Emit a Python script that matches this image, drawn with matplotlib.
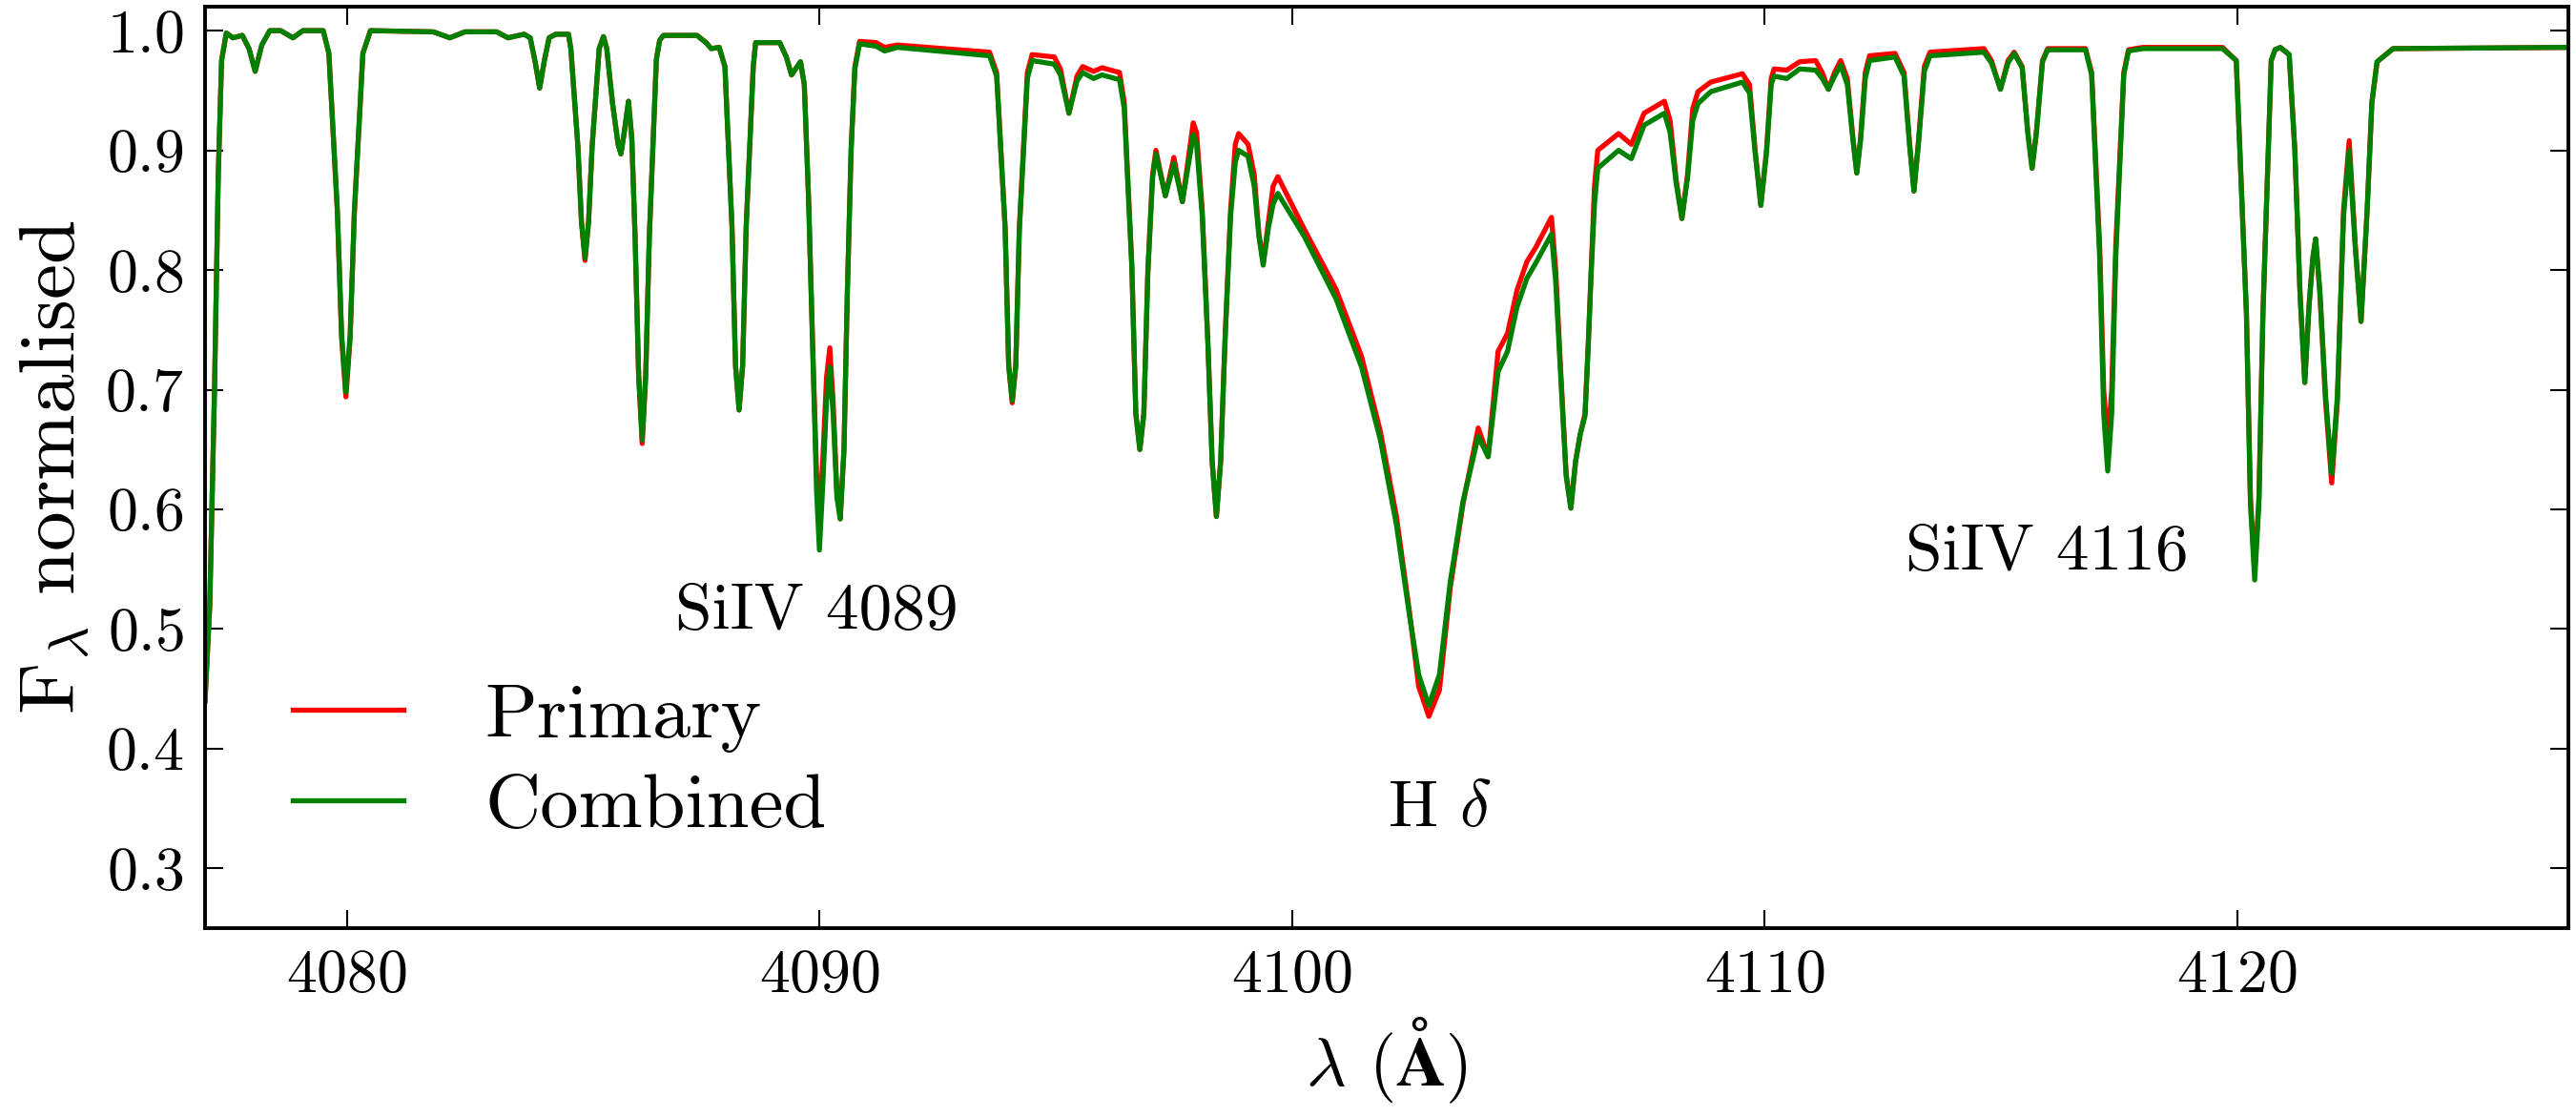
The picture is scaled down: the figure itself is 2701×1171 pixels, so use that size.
"""Normalised spectrum around H delta: primary star vs combined model."""
import matplotlib
matplotlib.use("Agg")
import matplotlib.pyplot as plt

plt.rcParams["font.family"] = "serif"
plt.rcParams["font.serif"] = ["cmr10"]
plt.rcParams["mathtext.fontset"] = "cm"
plt.rcParams["axes.formatter.use_mathtext"] = True

# wavelength (Angstrom), flux of primary and of combined model
wavelength = [
    # blue edge -> 4085.5
    4077.00, 4077.10, 4077.20, 4077.28, 4077.35, 4077.45, 4077.59, 4077.79, 4077.93, 4078.06,
    4078.20, 4078.37, 4078.60, 4078.86, 4079.07, 4079.50, 4079.62, 4079.80, 4079.89, 4079.98,
    4080.07, 4080.16, 4080.34, 4080.50, 4081.83, 4082.18, 4082.50, 4083.17, 4083.41, 4083.75,
    4083.88, 4083.98, 4084.08, 4084.18, 4084.28, 4084.42, 4084.69, 4084.74, 4084.89, 4084.965,
    4085.04, 4085.115, 4085.19, 4085.34, 4085.43,
    # 4085.5 -> 4091.7 (SiIV 4089)
    4085.50, 4085.62, 4085.74, 4085.80, 4085.87, 4085.96, 4086.03, 4086.10, 4086.175, 4086.25,
    4086.325, 4086.40, 4086.55, 4086.62, 4086.70, 4087.41, 4087.60, 4087.71, 4087.88, 4088.00,
    4088.15, 4088.225, 4088.30, 4088.375, 4088.45, 4088.60, 4088.65, 4089.16, 4089.30, 4089.41,
    4089.60, 4089.68, 4089.77, 4089.87, 4089.94, 4090.00, 4090.07, 4090.15, 4090.22, 4090.29,
    4090.37, 4090.44, 4090.52, 4090.59, 4090.67, 4090.75, 4090.85, 4091.20, 4091.38, 4091.65,
    # 4093.6 -> 4099.7
    4093.60, 4093.75, 4093.93, 4094.005, 4094.08, 4094.155, 4094.23, 4094.40, 4094.50, 4094.97,
    4095.10, 4095.28, 4095.45, 4095.57, 4095.80, 4095.98, 4096.35, 4096.45, 4096.61, 4096.695,
    4096.78, 4096.865, 4096.95, 4097.05, 4097.12, 4097.32, 4097.50, 4097.68, 4097.91, 4097.98,
    4098.10, 4098.22, 4098.31, 4098.40, 4098.49, 4098.58, 4098.70, 4098.80, 4098.87, 4099.07,
    4099.20, 4099.30, 4099.39, 4099.50, 4099.60, 4099.70,
    # H delta
    4100.26, 4100.93, 4101.47, 4101.87, 4102.21, 4102.48, 4102.68, 4102.895, 4103.12, 4103.35,
    4103.62, 4103.94, 4104.15, 4104.36, 4104.56, 4104.76, 4104.97, 4105.16, 4105.49, 4105.58,
    4105.68, 4105.80, 4105.90, 4106.00, 4106.10, 4106.20, 4106.27, 4106.33, 4106.40, 4106.47,
    4106.91, 4107.18, 4107.45, 4107.88, 4108.00, 4108.13, 4108.25, 4108.37, 4108.48, 4108.59,
    4108.86, 4109.53, 4109.68, 4109.80, 4109.92, 4110.04, 4110.14, 4110.20, 4110.47, 4110.74,
    # 4111 -> red edge (SiIV 4116)
    4111.08, 4111.22, 4111.35, 4111.48, 4111.61, 4111.75, 4111.87, 4111.95, 4112.03, 4112.13,
    4112.22, 4112.76, 4112.95, 4113.07, 4113.16, 4113.25, 4113.38, 4113.50, 4114.64, 4114.80,
    4114.99, 4115.15, 4115.28, 4115.45, 4115.57, 4115.66, 4115.75, 4115.88, 4115.99, 4116.79,
    4116.92, 4117.09, 4117.175, 4117.26, 4117.345, 4117.43, 4117.60, 4117.70, 4118.00, 4119.69,
    4119.98, 4120.195, 4120.28, 4120.37, 4120.46, 4120.545, 4120.72, 4120.80, 4120.91, 4121.10,
    4121.22, 4121.33, 4121.43, 4121.52, 4121.60, 4121.66, 4121.75, 4121.87, 4122.00, 4122.12,
    4122.25, 4122.37, 4122.50, 4122.62, 4122.75, 4122.85, 4122.96, 4123.30, 4126.93, 4127.00,
]

flux_primary = [
    0.440, 0.520, 0.700, 0.880, 0.975, 0.998, 0.994, 0.996, 0.985, 0.966,
    0.988, 1.000, 1.000, 0.994, 1.000, 1.000, 0.981, 0.848, 0.743, 0.694,
    0.743, 0.848, 0.981, 1.000, 0.999, 0.994, 0.999, 0.999, 0.994, 0.997,
    0.994, 0.975, 0.952, 0.975, 0.994, 0.997, 0.997, 0.985, 0.903, 0.840,
    0.808, 0.840, 0.903, 0.985, 0.995,
    0.985, 0.940, 0.905, 0.897, 0.915, 0.941, 0.910, 0.827, 0.711, 0.655,
    0.711, 0.827, 0.976, 0.992, 0.996, 0.996, 0.990, 0.985, 0.986, 0.970,
    0.836, 0.720, 0.683, 0.720, 0.836, 0.970, 0.990, 0.990, 0.978, 0.963,
    0.974, 0.955, 0.860, 0.720, 0.630, 0.596, 0.640, 0.710, 0.735, 0.690,
    0.615, 0.592, 0.650, 0.780, 0.900, 0.970, 0.991, 0.990, 0.986, 0.988,
    0.982, 0.965, 0.835, 0.720, 0.689, 0.720, 0.835, 0.965, 0.980, 0.978,
    0.968, 0.931, 0.962, 0.970, 0.966, 0.969, 0.965, 0.940, 0.805, 0.680,
    0.650, 0.680, 0.800, 0.880, 0.900, 0.862, 0.894, 0.857, 0.923, 0.915,
    0.850, 0.740, 0.640, 0.594, 0.640, 0.740, 0.850, 0.905, 0.914, 0.905,
    0.880, 0.830, 0.806, 0.840, 0.870, 0.878,
    0.834, 0.784, 0.728, 0.665, 0.594, 0.516, 0.452, 0.427, 0.449, 0.535,
    0.605, 0.668, 0.644, 0.732, 0.747, 0.783, 0.807, 0.819, 0.844, 0.800,
    0.720, 0.630, 0.601, 0.640, 0.663, 0.680, 0.740, 0.800, 0.870, 0.900,
    0.914, 0.905, 0.931, 0.941, 0.925, 0.875, 0.843, 0.880, 0.935, 0.949,
    0.957, 0.964, 0.955, 0.900, 0.854, 0.900, 0.960, 0.968, 0.967, 0.974,
    0.975, 0.965, 0.951, 0.965, 0.975, 0.960, 0.910, 0.881, 0.910, 0.965,
    0.979, 0.981, 0.965, 0.905, 0.866, 0.905, 0.970, 0.982, 0.985, 0.975,
    0.951, 0.975, 0.982, 0.970, 0.915, 0.885, 0.915, 0.975, 0.985, 0.985,
    0.965, 0.820, 0.700, 0.655, 0.700, 0.820, 0.965, 0.984, 0.986, 0.986,
    0.975, 0.765, 0.610, 0.548, 0.610, 0.765, 0.975, 0.984, 0.986, 0.980,
    0.900, 0.780, 0.706, 0.770, 0.810, 0.826, 0.780, 0.690, 0.622, 0.690,
    0.850, 0.908, 0.820, 0.757, 0.850, 0.940, 0.974, 0.985, 0.986, 0.986,
]

flux_combined = [
    0.440, 0.520, 0.700, 0.880, 0.975, 0.998, 0.994, 0.996, 0.985, 0.966,
    0.988, 1.000, 1.000, 0.994, 1.000, 1.000, 0.981, 0.850, 0.746, 0.698,
    0.746, 0.850, 0.981, 1.000, 0.999, 0.994, 0.999, 0.999, 0.994, 0.997,
    0.994, 0.975, 0.952, 0.975, 0.994, 0.997, 0.997, 0.985, 0.903, 0.840,
    0.810, 0.840, 0.903, 0.985, 0.995,
    0.985, 0.940, 0.905, 0.897, 0.915, 0.941, 0.910, 0.827, 0.713, 0.658,
    0.713, 0.827, 0.976, 0.992, 0.996, 0.996, 0.990, 0.985, 0.986, 0.970,
    0.836, 0.720, 0.683, 0.720, 0.836, 0.970, 0.990, 0.990, 0.978, 0.963,
    0.974, 0.955, 0.860, 0.715, 0.615, 0.566, 0.620, 0.690, 0.719, 0.680,
    0.610, 0.592, 0.650, 0.780, 0.900, 0.968, 0.989, 0.987, 0.983, 0.986,
    0.979, 0.962, 0.835, 0.720, 0.691, 0.720, 0.833, 0.960, 0.975, 0.972,
    0.963, 0.931, 0.958, 0.965, 0.960, 0.963, 0.959, 0.935, 0.803, 0.680,
    0.650, 0.680, 0.798, 0.877, 0.897, 0.862, 0.889, 0.857, 0.913, 0.905,
    0.845, 0.738, 0.640, 0.594, 0.640, 0.738, 0.845, 0.890, 0.900, 0.895,
    0.870, 0.828, 0.804, 0.835, 0.855, 0.864,
    0.828, 0.776, 0.719, 0.658, 0.587, 0.513, 0.462, 0.436, 0.462, 0.540,
    0.607, 0.661, 0.644, 0.715, 0.732, 0.769, 0.793, 0.806, 0.830, 0.790,
    0.715, 0.628, 0.601, 0.640, 0.663, 0.678, 0.738, 0.797, 0.855, 0.885,
    0.900, 0.893, 0.921, 0.931, 0.915, 0.872, 0.843, 0.877, 0.925, 0.939,
    0.949, 0.957, 0.948, 0.898, 0.854, 0.898, 0.955, 0.962, 0.960, 0.968,
    0.967, 0.960, 0.951, 0.962, 0.971, 0.955, 0.908, 0.881, 0.908, 0.960,
    0.975, 0.978, 0.962, 0.903, 0.866, 0.903, 0.966, 0.979, 0.982, 0.973,
    0.951, 0.973, 0.981, 0.969, 0.914, 0.885, 0.914, 0.974, 0.984, 0.984,
    0.963, 0.810, 0.680, 0.632, 0.680, 0.810, 0.963, 0.983, 0.985, 0.985,
    0.975, 0.763, 0.605, 0.541, 0.605, 0.763, 0.975, 0.984, 0.986, 0.980,
    0.900, 0.780, 0.706, 0.770, 0.810, 0.826, 0.782, 0.695, 0.630, 0.695,
    0.845, 0.900, 0.818, 0.757, 0.850, 0.940, 0.974, 0.985, 0.986, 0.986,
]

# line identifications, placed in data units
line_labels = ["SiIV 4089", "SiIV 4116", r"H $\delta$"]
label_x = [4086.95, 4112.99, 4102.02]
label_y = [0.50, 0.55, 0.335]

x_ticks = [4080, 4090, 4100, 4110, 4120]
y_ticks = [0.3, 0.4, 0.5, 0.6, 0.7, 0.8, 0.9, 1.0]

assert len(wavelength) == len(flux_primary) == len(flux_combined)

fig = plt.figure(figsize=(27.01, 11.71), dpi=100)
ax = fig.add_axes([0.0796, 0.169, 0.9173, 0.825])

ax.plot(wavelength, flux_primary, color="#ff0000", lw=3.8,
        solid_joinstyle="round", label="Primary")
ax.plot(wavelength, flux_combined, color="#008000", lw=3.8,
        solid_joinstyle="round", label="Combined")

for txt, x, y in zip(line_labels, label_x, label_y):
    ax.text(x, y, txt, fontsize=50, va="baseline", ha="left")

ax.set_xlim(4077, 4127)
ax.set_ylim(0.25, 1.02)
ax.set_xticks(x_ticks)
ax.set_yticks(y_ticks)
ax.tick_params(direction="in", top=True, right=True, length=14, width=1.5,
               labelsize=46, pad=16)
for s in ax.spines.values():
    s.set_linewidth(2.8)

ax.set_xlabel(r"$\lambda$ ($\mathbf{\AA}$)", fontsize=52, labelpad=8)
ax.set_ylabel(r"F$_\lambda$ normalised", fontsize=60, labelpad=10)

ax.legend(frameon=False, loc="upper left", bbox_to_anchor=(0.037, 0.266),
          borderpad=0, borderaxespad=0, handlelength=1.45, handletextpad=1.05,
          labelspacing=0.28, fontsize=58)

fig.savefig("out.png", dpi=100)
